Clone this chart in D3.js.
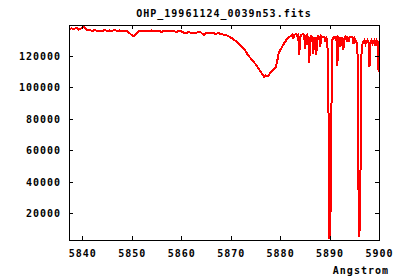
<!DOCTYPE html>
<html>
<head>
<meta charset="utf-8">
<script src="https://cdn.jsdelivr.net/npm/d3@7"></script>
<style>
  body { margin: 0; background: #fff; }
  text { font-family: "DejaVu Sans Mono", monospace; font-weight: bold; font-size: 10px; letter-spacing: 1px; fill: #000; }
</style>
</head>
<body>
<svg id="chart" width="400" height="280"></svg>
<script>
var title = "OHP_19961124_0039n53.fits";
var xLabel = "Angstrom";
var xTicks = [5840, 5850, 5860, 5870, 5880, 5890, 5900];
var yTicks = [20000, 40000, 60000, 80000, 100000, 120000];

// spectrum
var wavelength = [
  5837.3, 5837.8, 5838.3, 5838.8, 5839.3, 5839.8, 5840.2, 5840.6, 5841.0, 5841.5,
  5842.0, 5842.5, 5843.0, 5843.5, 5844.0, 5844.5, 5845.0, 5845.5, 5846.0, 5846.5,
  5847.0, 5847.5, 5848.0, 5848.5, 5849.0, 5849.5, 5850.0, 5850.4, 5850.8, 5851.2,
  5851.6, 5852.0, 5852.5, 5853.0, 5853.5, 5854.0, 5854.5, 5855.0, 5855.5, 5856.0,
  5856.5, 5857.0, 5857.5, 5858.0, 5858.5, 5859.0, 5859.5, 5860.0, 5860.5, 5861.0,
  5861.5, 5862.0, 5862.5, 5863.0, 5863.5, 5864.0, 5864.6, 5865.0, 5865.5, 5866.0,
  5866.5, 5867.0, 5867.5, 5868.0, 5868.5, 5869.0, 5869.5, 5870.0, 5870.5, 5871.0,
  5871.5, 5872.0, 5872.5, 5873.0, 5873.5, 5874.0, 5874.5, 5875.0, 5875.5, 5876.0,
  5876.4, 5876.8, 5877.1, 5877.5, 5878.0, 5878.4, 5878.8, 5879.1, 5879.4, 5879.6,
  5880.0, 5880.3, 5880.6, 5881.0, 5881.4, 5881.8,
  5882.24, 5882.44, 5882.65, 5882.85, 5883.25, 5883.46, 5883.66, 5883.86, 5884.07, 5884.27,
  5884.67, 5884.88, 5885.08, 5885.28, 5885.49, 5885.69, 5885.89, 5886.09, 5886.30, 5886.50,
  5886.70, 5886.91, 5887.11, 5887.31, 5887.52, 5887.72, 5887.92, 5888.12, 5888.33, 5888.53,
  5888.94, 5889.14, 5889.34, 5889.55, 5889.75, 5889.95, 5890.15, 5890.36, 5890.56, 5890.76,
  5890.97, 5891.17, 5891.37, 5891.58, 5891.78, 5891.98, 5892.19, 5892.39, 5892.59, 5892.79,
  5893.00, 5893.20, 5893.40, 5893.61, 5893.81, 5894.01, 5894.22, 5894.62, 5894.83, 5895.03,
  5895.23, 5895.64, 5895.84, 5896.04, 5896.25, 5896.45, 5896.65, 5896.86, 5897.06, 5897.26,
  5897.47, 5897.67, 5897.87, 5898.07, 5898.28, 5898.48, 5898.68, 5898.89, 5899.09, 5899.29,
  5899.50, 5899.70, 5899.90, 5900.00
];
var flux = [
  137150, 137500, 137150, 137800, 136800, 137500, 138400, 137800, 136200, 136500,
  135900, 136500, 135900, 136200, 135600, 136500, 135900, 136200, 135900, 136500,
  135900, 136200, 135900, 136200, 135900, 134600, 133300, 132700, 134000, 135250,
  135900, 135600, 136200, 135900, 135600, 136200, 135600, 135900, 136200, 135300,
  135900, 135600, 136200, 135600, 135900, 135300, 135900, 135600, 134900, 134600,
  135250, 134600, 134900, 134600, 135250, 134900, 133300, 134600, 134900, 134300,
  134600, 134000, 134600, 134000, 133600, 133300, 132700, 131700, 130800, 129500,
  128300, 126700, 125100, 123200, 120600, 118700, 116800, 114900, 112700, 110400,
  108200, 106600, 107600, 107000, 109200, 110400, 111700, 113000, 116200, 120600,
  123800, 125100, 127000, 128900, 130800, 132100,
  132700, 133300, 130800, 133300, 134000, 132700, 133300, 120600, 132100, 133300,
  134000, 132700, 124400, 132700, 133300, 131400, 115500, 131400, 132700, 132100,
  121300, 132100, 130200, 120600, 131400, 132700, 132100, 125700, 132700, 132100,
  132100, 128900, 131400, 130200, 102800, 4300, 4300, 81200, 130200, 131400,
  132100, 131400, 132700, 113700, 132100, 131400, 125700, 132100, 130200, 123800,
  131400, 132100, 130800, 132700, 128900, 131400, 132100, 132100, 127600, 131400,
  130200, 127000, 38000, 4900, 43100, 120600, 127600, 129500, 130200, 127600,
  129500, 130200, 128900, 113000, 128900, 130200, 127600, 128900, 130200, 126300,
  130200, 129500, 111100, 109800
];

var svg = d3.select("#chart");
var margin = { top: 25, right: 21, bottom: 40, left: 69 };
var width = 400 - margin.left - margin.right,
  height = 280 - margin.top - margin.bottom;

var x = d3.scaleLinear().domain([5837.3, 5900]).range([0, width]);
var y = d3.scaleLinear().domain([3000, 139700]).range([height, 0]);

var g = svg.append("g").attr("transform", "translate(" + margin.left + "," + margin.top + ")");

g.append("clipPath").attr("id", "clip")
  .append("rect").attr("width", width).attr("height", height);

var points = wavelength.map(function (w, i) { return [w, flux[i]]; });

var line = d3.line()
  .x(function (d) { return x(d[0]); })
  .y(function (d) { return y(d[1]); });

g.append("path")
  .datum(points)
  .attr("clip-path", "url(#clip)")
  .attr("fill", "none")
  .attr("stroke", "#ff0000")
  .attr("stroke-width", 2)
  .attr("shape-rendering", "crispEdges")
  .attr("d", line);

// axes, gnuplot style: ticks inside, mirrored
var tk = 4;
var axBottom = g.append("g").attr("transform", "translate(0," + height + ")")
  .call(d3.axisBottom(x).tickValues(xTicks).tickSize(-tk).tickPadding(10).tickFormat(d3.format("d")));
var axTop = g.append("g")
  .call(d3.axisTop(x).tickValues(xTicks).tickSize(-tk).tickFormat(""));
var axLeft = g.append("g")
  .call(d3.axisLeft(y).tickValues(yTicks).tickSize(-tk).tickPadding(8).tickFormat(d3.format("d")));
var axRight = g.append("g").attr("transform", "translate(" + width + ",0)")
  .call(d3.axisRight(y).tickValues(yTicks).tickSize(-tk).tickFormat(""));

[axBottom, axTop, axLeft, axRight].forEach(function (a) {
  a.select(".domain").remove();
  a.selectAll("line").attr("stroke", "#000").attr("shape-rendering", "crispEdges");
  a.selectAll("text").attr("font-family", null).attr("font-size", null);
});

g.append("rect")
  .attr("width", width).attr("height", height)
  .attr("fill", "none").attr("stroke", "#000").attr("stroke-width", 1)
  .attr("shape-rendering", "crispEdges");

svg.append("text")
  .attr("x", margin.left + width / 2).attr("y", 17)
  .attr("text-anchor", "middle")
  .text(title);

svg.append("text")
  .attr("x", 389).attr("y", 274)
  .attr("text-anchor", "end")
  .text(xLabel);
</script>
</body>
</html>
